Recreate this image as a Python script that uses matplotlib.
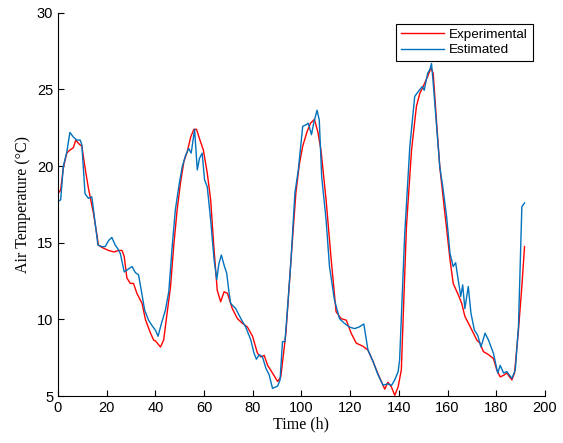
import numpy as np
import matplotlib.pyplot as plt

# Experimental (measured) air temperature
t_exp = [0, 1.1, 2.2, 3.6, 4.9, 6.3, 7.3, 8.6, 9.8, 11.1, 12.5, 14.6, 16.0, 16.6,
         18.0, 20.7, 23.0, 24.9, 26.3, 27.2, 28.3, 29.7, 31.0, 32.4, 34.5, 35.9,
         38.0, 39.3, 40.0, 42.1, 43.4, 44.8, 46.2, 47.5, 48.9, 50.3, 51.7, 53.1,
         54.5, 55.8, 56.9, 58.3, 59.7, 61.3, 62.7, 64.0, 65.4, 66.8, 68.2, 69.6,
         71.6, 73.7, 75.7, 77.8, 79.9, 81.9, 83.3, 84.7, 86.1, 88.1, 90.2, 91.5,
         93.6, 95.7, 97.7, 99.1, 100.5, 102.3, 103.7, 105.3, 106.7, 108.0, 110.1,
         112.2, 114.2, 116.3, 118.4, 120.4, 122.5, 125.2, 127.3, 129.4, 131.4,
         132.8, 134.2, 135.5, 136.9, 138.3, 139.7, 141.0, 143.1, 145.2, 147.2,
         148.6, 150.0, 151.8, 153.2, 154.1, 155.5, 156.8, 158.9, 161.0, 162.3,
         164.4, 165.8, 167.1, 169.2, 170.6, 172.0, 173.3, 174.7, 176.8, 178.8,
         180.2, 181.6, 183.0, 184.3, 186.4, 187.5, 189.1, 190.5, 191.6]
y_exp = [18.2, 18.45, 19.9, 20.85, 21.05, 21.2, 21.7, 21.45, 21.3, 19.9, 18.55,
         16.9, 15.5, 14.85, 14.7, 14.5, 14.4, 14.5, 14.5, 14.1, 12.7, 12.35,
         12.35, 11.7, 11.05, 10.0, 9.1, 8.65, 8.6, 8.2, 8.65, 10.4, 12.1, 14.75,
         17.1, 18.9, 20.3, 20.95, 21.9, 22.4, 22.4, 21.7, 21.05, 19.55, 17.8,
         14.75, 11.9, 11.15, 11.8, 11.7, 10.7, 10.05, 9.75, 9.5, 8.9, 7.8, 7.55,
         7.65, 7.0, 6.5, 5.95, 6.25, 9.1, 13.9, 18.25, 20.1, 21.3, 22.25, 22.8,
         23.05, 22.25, 21.05, 17.8, 13.9, 10.5, 10.05, 9.95, 9.1, 8.45, 8.25,
         8.0, 7.25, 6.45, 5.95, 5.45, 5.9, 5.6, 5.05, 5.6, 6.7, 16.05, 21.05,
         23.9, 24.75, 25.2, 25.85, 26.4, 26.05, 22.8, 19.95, 16.9, 13.9, 12.35,
         11.6, 11.05, 10.2, 9.55, 9.1, 8.65, 8.45, 7.9, 7.7, 7.45, 6.7, 6.25,
         6.35, 6.5, 6.05, 6.5, 9.3, 12.15, 14.75]

# Estimated air temperature
t_est = [0, 1.1, 2.2, 3.6, 4.9, 6.3, 7.7, 9.1, 9.8, 11.1, 12.5, 13.9, 15.0,
         16.4, 18.0, 19.4, 20.8, 22.1, 23.5, 24.6, 25.6, 27.2, 29.0, 30.4, 31.8,
         33.1, 34.2, 35.6, 37.2, 38.6, 40.0, 41.1, 42.5, 44.1, 45.5, 46.9, 48.2,
         49.6, 51.0, 52.4, 53.7, 54.7, 56.1, 57.2, 58.1, 59.2, 60.2, 61.3, 62.7,
         64.1, 65.2, 66.1, 67.1, 68.2, 69.3, 70.2, 70.9, 73.0, 75.1, 77.1, 79.2,
         80.5, 81.5, 82.6, 84.0, 85.4, 86.7, 88.1, 90.2, 91.2, 92.2, 93.2, 94.3,
         95.7, 97.3, 98.7, 100.5, 101.9, 102.8, 104.1, 105.0, 106.4, 107.3,
         108.3, 110.1, 111.5, 113.5, 115.6, 117.6, 119.7, 121.8, 123.6, 125.6,
         127.3, 129.4, 131.4, 133.5, 135.3, 137.0, 138.3, 139.7, 140.3, 142.4,
         144.5, 146.5, 147.9, 149.6, 150.4, 151.8, 152.7, 153.4, 154.1, 155.5,
         156.8, 158.2, 159.6, 161.0, 162.3, 163.3, 164.4, 165.4, 166.2, 167.1,
         168.5, 169.6, 171.0, 172.4, 173.7, 175.4, 176.8, 178.8, 180.6, 181.6,
         183.0, 184.3, 186.4, 187.8, 189.1, 190.5, 191.6]
y_est = [17.7, 17.8, 20.0, 20.9, 22.2, 21.9, 21.7, 21.7, 21.4, 18.2, 17.9, 18.0,
         16.6, 14.85, 14.75, 14.75, 15.15, 15.35, 14.85, 14.6, 14.3, 13.1, 13.3,
         13.45, 13.05, 12.9, 11.9, 10.6, 9.95, 9.6, 9.3, 8.9, 9.75, 10.6, 11.8,
         14.75, 17.15, 18.65, 19.95, 20.7, 21.15, 20.85, 22.4, 19.75, 20.5,
         20.85, 19.1, 18.65, 16.5, 13.9, 12.6, 13.65, 14.2, 13.55, 13.0, 11.8,
         11.05, 10.7, 10.05, 9.5, 8.65, 7.8, 7.4, 7.7, 7.55, 6.8, 6.4, 5.5, 5.65,
         6.05, 8.55, 8.55, 10.8, 13.9, 18.25, 19.75, 22.6, 22.7, 22.8, 22.05,
         22.8, 23.65, 23.0, 19.3, 16.5, 13.45, 11.3, 10.05, 9.75, 9.5, 9.4, 9.5,
         9.7, 8.0, 7.25, 6.4, 5.7, 5.8, 5.7, 6.05, 6.6, 7.35, 15.6, 21.3, 24.55,
         24.85, 25.2, 24.95, 26.05, 26.3, 26.7, 25.4, 22.6, 19.95, 18.45, 16.7,
         14.3, 13.45, 13.7, 12.55, 11.5, 12.25, 10.7, 12.15, 10.4, 9.3, 8.95,
         8.2, 9.1, 8.65, 7.8, 6.5, 7.0, 6.5, 6.6, 6.15, 6.7, 9.5, 17.35, 17.6]

fig = plt.figure(figsize=(5.63, 4.43), dpi=100)
ax = fig.add_axes([0.103, 0.106, 0.865, 0.865])

ax.plot(t_exp, y_exp, color="#ff0000", linewidth=1.0, label="Experimental")
ax.plot(t_est, y_est, color="#0072bd", linewidth=1.0, label="Estimated")

ax.set_xlim(0, 200)
ax.set_ylim(5, 30)
ax.set_xticks(np.arange(0, 201, 20))
ax.set_yticks(np.arange(5, 31, 5))
ax.spines["top"].set_visible(False)
ax.spines["right"].set_visible(False)
ax.tick_params(direction="in", length=4, width=0.8, labelsize=10.5)
for lab in ax.get_xticklabels() + ax.get_yticklabels():
    lab.set_family("Liberation Sans")

ax.set_xlabel("Time (h)", family="Liberation Serif", fontsize=11.5, labelpad=1)
ax.set_ylabel("Air Temperature (°C)", family="Liberation Serif", fontsize=11.5, labelpad=4)

# MATLAB-style square legend box in the upper right
leg = ax.legend(loc="upper right", bbox_to_anchor=(0.975, 0.971), borderaxespad=0,
                fancybox=False, edgecolor="black", framealpha=1, handlelength=3.2,
                borderpad=0.35, labelspacing=0.2, handletextpad=0.4,
                prop={"family": "Liberation Sans", "size": 9.7})
leg.get_frame().set_linewidth(0.8)

fig.savefig("out.png", dpi=100)
